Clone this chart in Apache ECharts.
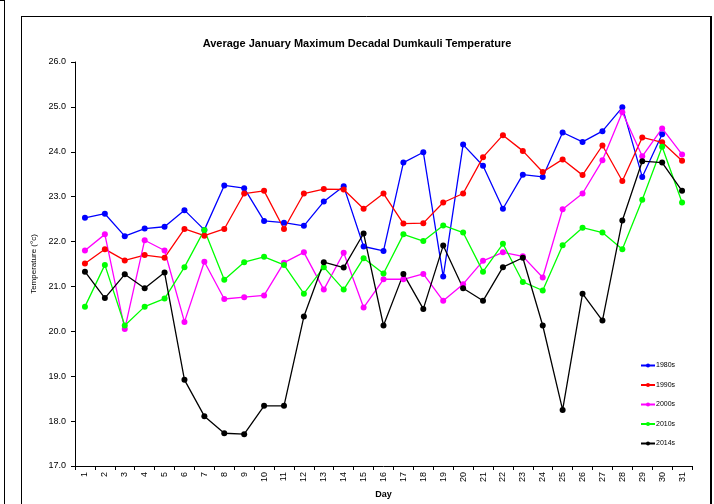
<!DOCTYPE html>
<html>
<head>
<meta charset="utf-8">
<script src="https://cdn.jsdelivr.net/npm/echarts@6/dist/echarts.min.js"></script>
<style>html,body{margin:0;padding:0;background:#fff;}#c{width:714px;height:504px;}</style>
</head>
<body>
<div id="c"></div>
<script>
var days = ['1','2','3','4','5','6','7','8','9','10','11','12','13','14','15','16','17','18','19','20','21','22','23','24','25','26','27','28','29','30','31'];
var seriesNames = ['1980s','1990s','2000s','2010s','2014s'];
var s1980 = [22.53,22.62,22.12,22.29,22.33,22.70,22.26,23.25,23.19,22.46,22.42,22.35,22.89,23.23,21.89,21.79,23.76,23.99,21.22,24.16,23.69,22.73,23.49,23.44,24.43,24.22,24.46,24.99,23.44,24.39,null];
var s1990 = [21.51,21.83,21.58,21.70,21.64,22.28,22.13,22.28,23.07,23.13,22.28,23.07,23.17,23.16,22.73,23.07,22.40,22.41,22.87,23.07,23.88,24.37,24.02,23.55,23.83,23.48,24.14,23.35,24.32,24.21,23.80];
var s2000 = [21.80,22.16,20.05,22.03,21.80,20.21,21.55,20.72,20.76,20.80,21.53,21.76,20.93,21.75,20.53,21.16,21.16,21.28,20.68,21.05,21.57,21.76,21.67,21.20,22.72,23.07,23.81,24.88,23.90,24.52,23.94];
var s2010 = [20.55,21.48,20.13,20.55,20.73,21.43,22.26,21.15,21.54,21.66,21.48,20.84,21.43,20.93,21.63,21.29,22.16,22.01,22.36,22.20,21.33,21.95,21.10,20.91,21.92,22.31,22.20,21.83,22.93,24.11,22.87];
var s2014 = [21.33,20.74,21.27,20.96,21.31,18.92,18.11,17.73,17.71,18.34,18.34,20.33,21.54,21.42,22.18,20.13,21.28,20.50,21.91,20.96,20.68,21.43,21.64,20.13,18.25,20.84,20.24,22.47,23.79,23.76,23.13];
var colors = ['#0000ff','#ff0000','#ff00ff','#00ff00','#000000'];
var allData = [s1980,s1990,s2000,s2010,s2014];

var FONT = 'Liberation Sans, Arial, sans-serif';
var chart = echarts.init(document.getElementById('c'), null, {renderer:'canvas'});
var series = allData.map(function(d,i){
  return {
    name: seriesNames[i], type:'line', data:d,
    symbol:'circle', symbolSize:6, showSymbol:true,
    lineStyle:{color:colors[i], width:1.3},
    itemStyle:{color:colors[i]},
    animation:false
  };
});
chart.setOption({
  animation:false,
  backgroundColor:'#fff',
  color:colors,
  title:{
    text:'Average January Maximum Decadal Dumkauli Temperature',
    left:'center', top:33,
    textStyle:{fontFamily:FONT, fontSize:11, fontWeight:'bold', color:'#000'}
  },
  legend:{
    orient:'vertical', left:635, top:357,
    itemWidth:14, itemHeight:5, itemGap:12.5,
    textStyle:{fontFamily:FONT, fontSize:7, color:'#000', padding:[0,0,0,-4]},
    data:seriesNames
  },
  grid:{left:75, right:22, top:62, bottom:38, containLabel:false, outerBoundsMode:'none'},
  xAxis:{
    type:'category', data:days, boundaryGap:true,
    name:'Day', nameLocation:'middle', nameGap:23,
    nameTextStyle:{fontFamily:FONT, fontSize:9, fontWeight:'bold', color:'#000'},
    axisLine:{lineStyle:{color:'#000', width:1}},
    axisTick:{show:true, inside:false, length:4, alignWithLabel:false, lineStyle:{color:'#000'}},
    axisLabel:{rotate:90, interval:0, margin:6, fontFamily:FONT, fontSize:9, color:'#000'},
    splitLine:{show:false}
  },
  yAxis:{
    type:'value', min:17, max:26, interval:1,
    name:'Temperature (°c)', nameLocation:'middle', nameGap:33, nameRotate:90,
    nameTextStyle:{fontFamily:FONT, fontSize:8, color:'#000'},
    axisLine:{show:true, lineStyle:{color:'#000', width:1}},
    axisTick:{show:true, inside:false, length:4, lineStyle:{color:'#000'}},
    axisLabel:{margin:9, fontFamily:FONT, fontSize:9, color:'#000', formatter:function(v){return v.toFixed(1);}},
    splitLine:{show:false}
  },
  graphic:[
    {type:'line', shape:{x1:4.5, y1:0, x2:4.5, y2:504}, style:{stroke:'#000', lineWidth:1}, silent:true},
    {type:'line', shape:{x1:0, y1:0.5, x2:4, y2:0.5}, style:{stroke:'#000', lineWidth:1}, silent:true},
    {type:'line', shape:{x1:21.5, y1:16.5, x2:711, y2:16.5}, style:{stroke:'#000', lineWidth:1}, silent:true},
    {type:'line', shape:{x1:21.5, y1:16, x2:21.5, y2:504}, style:{stroke:'#000', lineWidth:1}, silent:true},
    {type:'line', shape:{x1:711, y1:16, x2:711, y2:504}, style:{stroke:'#000', lineWidth:2}, silent:true}
  ],
  series:series
});
</script>
</body>
</html>
